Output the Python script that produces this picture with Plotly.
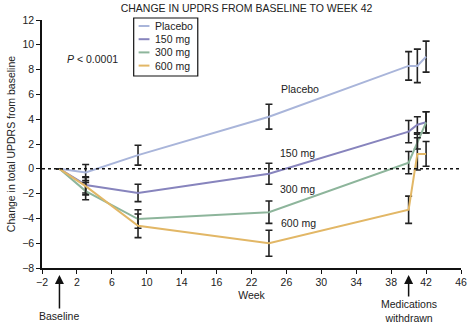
import plotly.graph_objects as go

weeks = [0, 3, 9, 24, 40, 41, 42]
series_names = ["Placebo", "150 mg", "300 mg", "600 mg"]
placebo = [0, -0.3, 1.1, 4.2, 8.3, 8.3, 9.05]
placebo_err = [0, 0.65, 0.8, 1.0, 1.15, 1.35, 1.25]
mg150 = [0, -1.3, -1.95, -0.4, 3.0, 3.55, 3.75]
mg150_err = [0, 0.65, 0.7, 0.85, 0.9, 0.65, 0.85]
mg300 = [0, -1.8, -4.05, -3.5, 0.5, 2.2, 3.75]
mg300_err = [0, 0.7, 0.75, 0.9, 0.9, 0.6, 0.85]
mg600 = [0, -1.4, -4.6, -6.0, -3.3, 1.2, 1.2]
mg600_err = [0, 0.7, 0.95, 1.05, 1.1, 1.3, 1.0]
colors = ["#a9b5da", "#8784bd", "#8db59b", "#e2b766"]

x_tickvals = [-2, 2, 6, 10, 14, 18, 22, 26, 30, 34, 38, 42, 46]
x_ticktext = ["\u22122", "2", "6", "10", "14", "16", "22", "26", "30", "34", "38", "42", "46"]
y_tickvals = [-8, -6, -4, -2, 0, 2, 4, 6, 8, 10, 12]
y_ticktext = ["\u22128", "\u22126", "\u22124", "\u22122", "0", "2", "4", "6", "8", "10", "12"]

# in-plot labels: (text, week, value)
labels = [("Placebo", 27.6, 6.4), ("150 mg", 27.3, 1.3), ("300 mg", 27.3, -1.65), ("600 mg", 27.4, -4.4)]

FONT = "Liberation Sans, Arial, sans-serif"
fig = go.Figure()
all_vals = [placebo, mg150, mg300, mg600]
all_errs = [placebo_err, mg150_err, mg300_err, mg600_err]
for name, vals, errs, col in zip(series_names, all_vals, all_errs, colors):
    fig.add_trace(go.Scatter(
        x=weeks, y=vals, mode="lines", name=name,
        line=dict(color=col, width=2),
        error_y=dict(type="data", array=errs, visible=True, color="#222", thickness=1.6, width=3.5),
        showlegend=False,
    ))

# zero dotted line
fig.add_shape(type="line", xref="x", yref="y", x0=-2, x1=46, y0=0, y1=0,
              line=dict(color="#111", width=1.5, dash="dot"))

# manual legend box (pixel-positioned in paper coords)
W, H = 425.0, 248.0
def px(xp):
    return (xp - 42) / W
def py(yp):
    return (268 - yp) / H

fig.add_shape(type="rect", xref="paper", yref="paper", x0=px(135), x1=px(200), y0=py(76), y1=py(18),
              line=dict(color="#111", width=1.2), fillcolor="white")
for i, (name, col) in enumerate(zip(series_names, colors)):
    yy = 26 + i * 13.2
    fig.add_shape(type="line", xref="paper", yref="paper", x0=px(140), x1=px(151), y0=py(yy), y1=py(yy),
                  line=dict(color=col, width=2))
    fig.add_annotation(xref="paper", yref="paper", x=px(155), y=py(yy), text=name, showarrow=False,
                       xanchor="left", yanchor="middle", font=dict(family=FONT, size=10.5, color="#222"))

for text, wx, vy in labels:
    fig.add_annotation(x=wx, y=vy, text=text, showarrow=False, xanchor="center", yanchor="middle",
                       font=dict(family=FONT, size=10.5, color="#222"))

fig.add_annotation(x=3.8, y=8.85, text="<i>P</i> < 0.0001", showarrow=False,
                   font=dict(family=FONT, size=10.5, color="#222"))

# arrows below axis
fig.add_annotation(x=0, y=py(275), xref="x", yref="paper", text="Baseline", showarrow=True,
                   arrowhead=2, arrowsize=1.2, arrowwidth=1.5, arrowcolor="#111", ax=0, ay=41,
                   font=dict(family=FONT, size=10.5, color="#222"))
fig.add_annotation(x=40, y=py(275), xref="x", yref="paper", text="Medications<br>withdrawn", showarrow=True,
                   arrowhead=2, arrowsize=1.2, arrowwidth=1.5, arrowcolor="#111", ax=0, ay=36,
                   font=dict(family=FONT, size=10.5, color="#222"))

fig.update_layout(
    width=474, height=327,
    margin=dict(l=42, r=7, t=20, b=59),
    paper_bgcolor="white", plot_bgcolor="white",
    font=dict(family=FONT, size=10.5, color="#222"),
    title=dict(text="CHANGE IN UPDRS FROM BASELINE TO WEEK 42", x=0.52, xanchor="center",
               y=0.985, yanchor="top", font=dict(family=FONT, size=10.5, color="#222")),
    showlegend=False,
)
fig.update_xaxes(range=[-2, 46], tickvals=x_tickvals, ticktext=x_ticktext, showgrid=False, zeroline=False,
                 showline=True, linecolor="#111", linewidth=1.5, ticks="outside", ticklen=4, tickwidth=1.2,
                 tickcolor="#111", title=dict(text="Week", standoff=4, font=dict(size=10.5)))
fig.update_yaxes(range=[-8, 12], tickvals=y_tickvals, ticktext=y_ticktext, showgrid=False, zeroline=False,
                 showline=True, linecolor="#111", linewidth=1.5, ticks="outside", ticklen=4, tickwidth=1.2,
                 tickcolor="#111", title=dict(text="Change in total UPDRS from baseline", standoff=4, font=dict(size=10.5)))

fig.write_html("out.html")
